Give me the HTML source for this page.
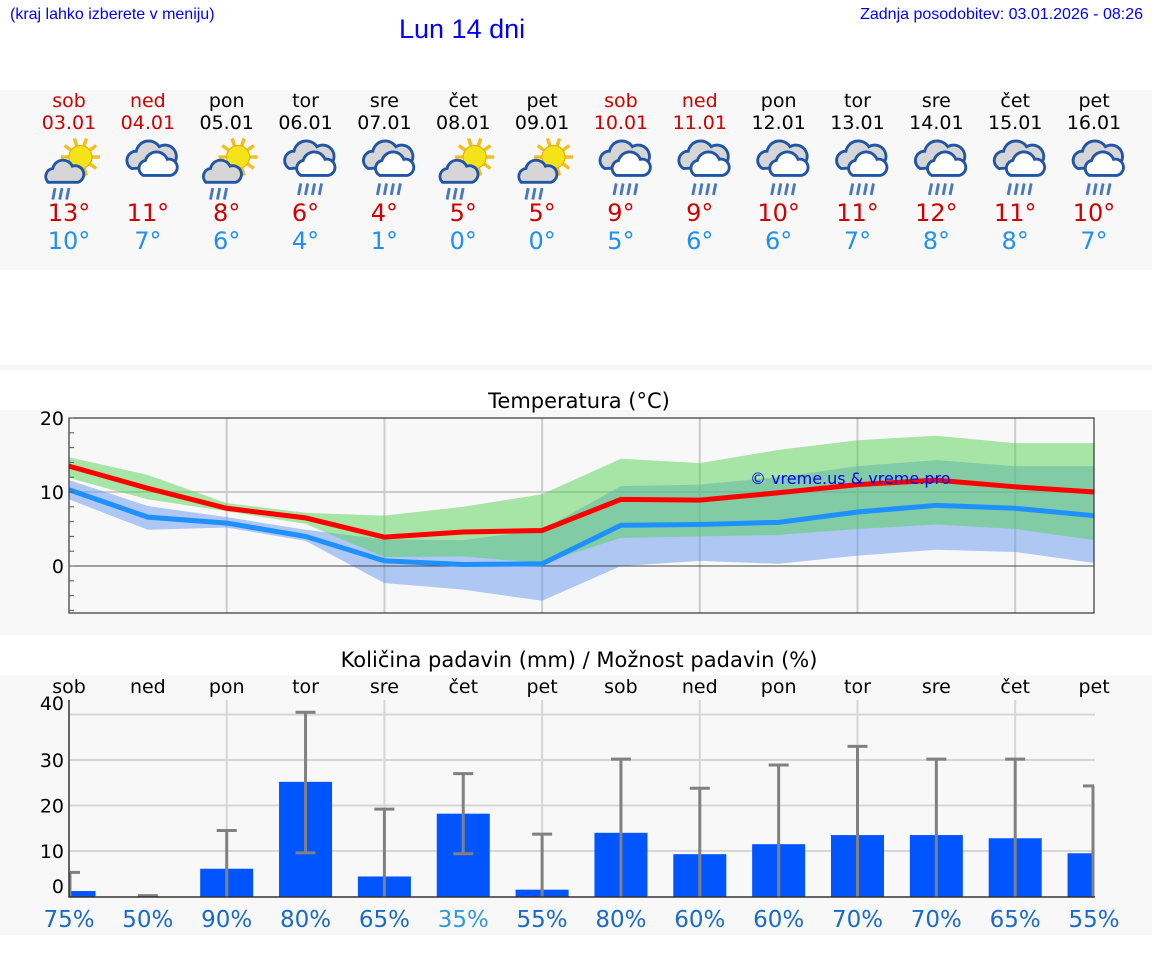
<!DOCTYPE html>
<html><head><meta charset="utf-8"><style>
body{margin:0;width:1152px;height:975px;background:#fff;position:relative;overflow:hidden;font-family:"DejaVu Sans",sans-serif}
.a{position:absolute;white-space:nowrap}
</style></head><body>
<div class="a" style="left:10px;top:6px;font:16px 'Liberation Sans',sans-serif;color:#00f">(kraj lahko izberete v meniju)</div>
<div class="a" style="left:399px;top:14px;font:27px 'Liberation Sans',sans-serif;color:#00f">Lun 14 dni</div>
<div class="a" style="right:9px;top:6px;font:16px 'Liberation Sans',sans-serif;color:#00f">Zadnja posodobitev: 03.01.2026 - 08:26</div>
<div class="a" style="left:0;top:90px;width:1152px;height:180px;background:#f8f8f8"></div>
<div class="a" style="left:0;top:365px;width:1152px;height:5px;background:#f6f6f6"></div>
<div class="a" style="left:0;top:410px;width:1152px;height:225px;background:#f8f8f8"></div>
<div class="a" style="left:0;top:675px;width:1152px;height:260px;background:#f8f8f8"></div>
<svg id="s" class="a" style="left:0;top:0" width="1152" height="975"></svg>
<script>
const days=["sob","ned","pon","tor","sre","čet","pet","sob","ned","pon","tor","sre","čet","pet"];
const dates=["03.01","04.01","05.01","06.01","07.01","08.01","09.01","10.01","11.01","12.01","13.01","14.01","15.01","16.01"];
const weekend=[1,1,0,0,0,0,0,1,1,0,0,0,0,0];
const icons=["sun-rain","cloud","sun-rain","rain","rain","sun-rain","sun-rain","rain","rain","rain","rain","rain","rain","rain"];
const tmax=[13,11,8,6,4,5,5,9,9,10,11,12,11,10];
const tmin=[10,7,6,4,1,0,0,5,6,6,7,8,8,7];
const maxLine=[13.5,10.5,7.8,6.5,3.9,4.6,4.8,9.0,8.9,9.9,11.0,11.6,10.7,10.0];
const minLine=[10.3,6.6,5.8,4.0,0.7,0.2,0.3,5.5,5.6,5.9,7.3,8.2,7.8,6.8];
const maxHi=[14.7,12.3,8.5,7.2,6.8,8.0,9.7,14.5,13.9,15.7,17.0,17.6,16.6,16.6];
const maxLo=[11.9,9.0,7.4,5.7,1.2,1.3,0.4,3.8,4.0,4.2,5.0,5.6,5.0,3.5];
const minHi=[11.6,8.1,6.6,4.9,3.6,3.5,4.9,10.8,11.0,12.0,13.5,14.3,13.5,13.5];
const minLo=[9.0,4.9,5.2,3.4,-2.3,-3.2,-4.7,0.0,0.7,0.3,1.4,2.2,1.9,0.4];
const tempTicks=[0,10,20];
const precip=[1.2,0,6.1,25.2,4.4,18.2,1.5,14.0,9.3,11.5,13.5,13.5,12.8,9.5];
const precipLo=[0,0,0,9.6,0,9.4,0,0,0,0,0,0,0,0];
const precipHi=[5.3,0.2,14.5,40.5,19.2,27.0,13.7,30.2,23.8,28.9,33.0,30.2,30.2,24.3];
const prob=["75%","50%","90%","80%","65%","35%","55%","80%","60%","60%","70%","70%","65%","55%"];
const precipTicks=[10,20,30,40];

const S=document.getElementById('s'),NS="http://www.w3.org/2000/svg";
function mk(t,a,p){const e=document.createElementNS(NS,t);for(const k in a)e.setAttribute(k,a[k]);(p||S).appendChild(e);return e}
function tx(x,y,s,a){const e=mk('text',Object.assign({x:x,y:y,'text-anchor':'middle'},a));e.textContent=s;return e}
const X=i=>69+i*78.85;
const yT=v=>566-7.4*v;
const yP=v=>896.5-4.55*v;

// forecast strip
days.forEach((d,i)=>{
  const c=weekend[i]?"#d00000":"#000";
  let e=tx(X(i),107,d,{'font-size':19,fill:c});
  
  
  e=tx(X(i),129,dates[i],{'font-size':19,fill:c});
  
  
  const g=mk('g',{transform:`translate(${X(i)-30},134) scale(1.15)`});
  
  
  const sun=icons[i]=="sun-rain";
  if(sun){for(let k=0;k<10;k++){const an=k*Math.PI/5;mk('line',{x1:36+Math.cos(an)*10,y1:20+Math.sin(an)*10,x2:36+Math.cos(an)*17,y2:20+Math.sin(an)*17,stroke:'#f0c020','stroke-width':3},g)}
    mk('circle',{cx:36,cy:20,r:10,fill:'#f5e31a',stroke:'#e8b000'},g);
    mk('path',{d:'M8 42a7 7 0 0 1 4-12a9 9 0 0 1 17-2a7 7 0 0 1 5 14z',fill:'#d6d6d6',stroke:'#2255a5','stroke-width':2.5},g);
    [14,20,26].forEach(x=>mk('line',{x1:x,y1:47,x2:x-2,y2:57,stroke:'#4a78c0','stroke-width':2.5},g));
  }else{
    mk('path',{d:'M12 30a8 8 0 0 1 4-15a11 11 0 0 1 20-4a9 9 0 0 1 10 17z',fill:'#d6d6d6',stroke:'#2255a5','stroke-width':2.5},g);
    mk('path',{d:'M22 36a7 7 0 0 1 2-13a10 10 0 0 1 19-1a7 7 0 0 1 3 14z',fill:'#fff',stroke:'#2255a5','stroke-width':2.5},g);
    if(icons[i]=="rain")[22,28,34,40].forEach(x=>mk('line',{x1:x,y1:43,x2:x-2,y2:53,stroke:'#4a78c0','stroke-width':2.5},g));
  }
  e=tx(X(i),221,tmax[i]+"°",{'font-size':24,fill:'#d00000'});
  
  
  e=tx(X(i),249,tmin[i]+"°",{'font-size':24,fill:'#2090f0'});
  
  
});

// temperature chart
let e=tx(579,408,"Temperatura (°C)",{'font-size':21,fill:'#000'});


mk('rect',{x:69,y:418,width:1025,height:195,fill:'#f8f8f8'});
[2,4,6,8,10,12].forEach(i=>mk('line',{x1:X(i),x2:X(i),y1:418,y2:613,stroke:'#ccc','stroke-width':2}));
mk('line',{x1:69,x2:1094,y1:yT(10),y2:yT(10),stroke:'#ccc','stroke-width':2});
const band=(hi,lo,fill,op,name)=>{let d="M"+hi.map((v,i)=>X(i)+","+yT(v)).join("L");for(let i=lo.length-1;i>=0;i--)d+="L"+X(i)+","+yT(lo[i]);const p=mk('path',{d:d+"Z",fill:fill,'fill-opacity':op});};
band(minHi,minLo,'#6495ed',0.5,'min-temp-range');
band(maxHi,maxLo,'#50d050',0.48,'max-temp-range');
mk('line',{x1:69,x2:1094,y1:yT(0),y2:yT(0),stroke:'#444','stroke-width':1});
const line=(arr,c,name)=>{const p=mk('polyline',{points:arr.map((v,i)=>X(i)+","+yT(v)).join(" "),fill:'none',stroke:c,'stroke-width':5});};
line(minLine,'#1e90ff','min-temp-line');line(maxLine,'#ff0000','max-temp-line');
mk('rect',{x:69,y:418,width:1025,height:195,fill:'none',stroke:'#333','stroke-width':1.2});
for(let v=-6;v<=20;v+=2)mk('line',{x1:69,x2:74,y1:yT(v),y2:yT(v),stroke:'#555'});
tempTicks.forEach(v=>{const t=tx(64,yT(v)+7,String(v),{'font-size':19,'text-anchor':'end'});});
e=tx(750,484,"© vreme.us & vreme.pro",{'font-size':16,fill:'#0000ee','text-anchor':'start'});



// precipitation chart
e=tx(579,667,"Količina padavin (mm) / Možnost padavin (%)",{'font-size':21});


days.forEach((d,i)=>{const t=tx(X(i),693,d,{'font-size':19});});
precipTicks.forEach(v=>mk('line',{x1:69,x2:1095,y1:yP(v),y2:yP(v),stroke:'#d6d6d6','stroke-width':2}));
[2,4,6,8,10,12].forEach(i=>mk('line',{x1:X(i),x2:X(i),y1:700,y2:897,stroke:'#d6d6d6','stroke-width':2}));
precip.forEach((v,i)=>{
  const xc0=X(i);
  const x0=Math.max(70,xc0-26.5),x1=Math.min(1093,xc0+26.5);
  const r=mk('rect',{x:x0,y:yP(v),width:x1-x0,height:Math.max(0,896.5-yP(v)),fill:'#0055ff'});
  
  
  const xc=Math.min(Math.max(xc0,70),1093);
  mk('line',{x1:xc,x2:xc,y1:yP(precipHi[i]),y2:yP(precipLo[i]),stroke:'#808080','stroke-width':3});
  mk('line',{x1:Math.max(xc-10,70),x2:Math.min(xc+10,1094),y1:yP(precipHi[i]),y2:yP(precipHi[i]),stroke:'#808080','stroke-width':3});
  if(precipLo[i]>0)mk('line',{x1:xc-10,x2:xc+10,y1:yP(precipLo[i]),y2:yP(precipLo[i]),stroke:'#808080','stroke-width':3});
  const t=tx(X(i),927,prob[i],{'font-size':23,fill:prob[i]=="35%"?'#3399dd':'#1a6ac8'});
  
  
});
mk('polyline',{points:"69,700 69,897 1095,897",fill:'none',stroke:'#333','stroke-width':1.5});
precipTicks.concat([0]).forEach(v=>{const y=v==40?710:v==0?893:yP(v)+7;const t=tx(64,y,String(v),{'font-size':19,'text-anchor':'end'});});
</script>
</body></html>
